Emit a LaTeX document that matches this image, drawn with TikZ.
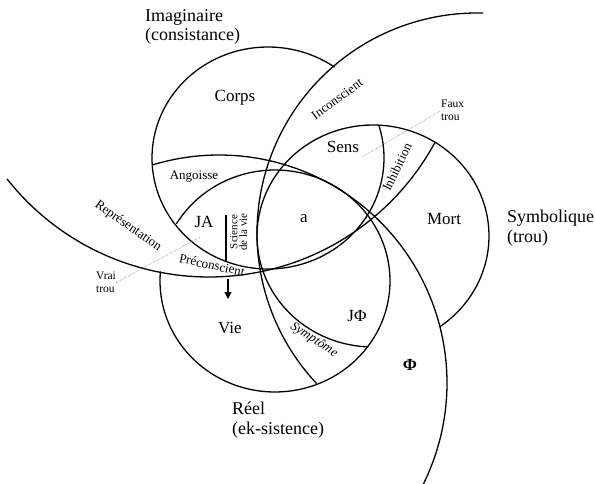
\documentclass[tikz,border=0pt]{standalone}
\usepackage{fontspec}
\setmainfont{Liberation Serif}
\usetikzlibrary{arrows.meta}

\begin{document}
\begin{tikzpicture}[
        x=1pt, y=-1pt,
        ring/.style={line width=1.3pt},
        lab/.style={font=\fontsize{17}{19}\selectfont, inner sep=0pt},
        big/.style={font=\fontsize{18}{19.5}\selectfont, align=left, inner sep=0pt, anchor=north west},
        small/.style={font=\fontsize{13}{14}\selectfont, inner sep=0pt},
        trou/.style={font=\fontsize{11.5}{13}\selectfont, align=left, inner sep=0pt, anchor=north west},
        hole/.style={densely dotted, line width=0.5pt, black!60}
    ]
    \useasboundingbox (0,0) rectangle (595,484);

    % the three rings
    \draw[ring] plot[domain=-17:305, samples=160, variable=\t] ({268+116*cos(\t)}, {158+111*sin(\t)}); % imaginaire
    \draw[ring] plot[domain=211:545, samples=160, variable=\t] ({275+115*cos(\t)}, {281+111*sin(\t)}); % reel
    \draw[ring] plot[domain=92.5:415, samples=160, variable=\t] ({373+116*cos(\t)}, {236+111*sin(\t)}); % symbolique

    % the three open lines
    \draw[ring] plot[domain=136.8:271.6, samples=120, variable=\t] ({477+220*cos(\t)}, {233+220*sin(\t)}); % inconscient
    \draw[ring] plot[domain=28.3:141.8, samples=120, variable=\t] ({209+257*cos(\t)}, {20+257*sin(\t)}); % representation
    \draw[ring] plot[domain=253.1:388, samples=120, variable=\t] ({219+228*cos(\t)}, {383+228*sin(\t)}); % phi

    % names of the rings
    \node[big] (imaginaire) at (145,9) {Imaginaire\\(consistance)};
    \node[big] (symbolique) at (507,210) {Symbolique\\(trou)};
    \node[big] (reel) at (232,402) {Réel\\(ek-sistence)};

    % fields
    \node[lab] (corps) at (235,98) {Corps};
    \node[lab] (sens) at (343,147) {Sens};
    \node[lab] (mort) at (444,219) {Mort};
    \node[lab] (vie) at (230,328) {Vie};
    \node[lab] (ja) at (204,222) {JA};
    \node[lab] (a) at (304,219) {a};
    \node[lab] (jphi) at (357,316) {JΦ};
    \node[lab] (phi) at (410,365) {\textbf{Φ}};

    % bands
    \node[small] (angoisse) at (194,177) {Angoisse};
    \node[small, rotate=36] (inconscient) at (337,99) {Inconscient};
    \node[small, rotate=64] (inhibition) at (397,167) {Inhibition};
    \node[small, rotate=-35] (representation) at (128,226) {Représentation};
    \node[small, rotate=-12] (preconscient) at (212,265) {Préconscient};
    \node[small, rotate=-33] (symptome) at (314,340) {\itshape Symptôme};
    \node[font=\fontsize{11}{9.5}\selectfont, align=center, inner sep=0pt, rotate=90] (science) at (238.5,232) {Science\\de la vie};

    % holes
    \node[trou] (vrai) at (96,272) {Vrai\\trou};
    \node[trou] (faux) at (441,100) {Faux\\trou};
    \coordinate (vraitrou) at (200,237);
    \coordinate (fauxtrou) at (362,157);
    \draw[hole] (vrai.east) -- (vraitrou);
    \draw[hole] (fauxtrou) -- (faux.west);

    % arrow of the science de la vie
    \coordinate (sv1) at (226,215);
    \coordinate (sv2) at (226,261);
    \coordinate (sv3) at (228,279);
    \coordinate (sv4) at (228,299);
    \draw[line width=1.2pt] (sv1) -- (sv2);
    \draw[line width=1.2pt, -{Triangle[width=7pt, length=7pt]}] (sv3) -- (sv4);
\end{tikzpicture}
\end{document}
